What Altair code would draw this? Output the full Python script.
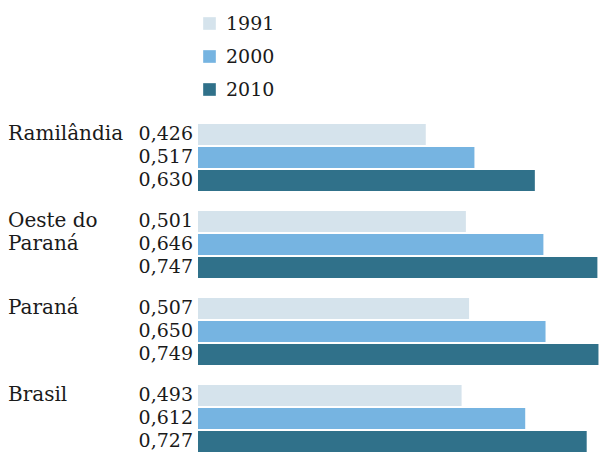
import altair as alt
import pandas as pd

# IDHM by region and census year
regions = ["Ramilândia", "Oeste do Paraná", "Paraná", "Brasil"]
years = ["1991", "2000", "2010"]
idhm_1991 = [0.426, 0.501, 0.507, 0.493]
idhm_2000 = [0.517, 0.646, 0.650, 0.612]
idhm_2010 = [0.630, 0.747, 0.749, 0.727]
# region names split into the lines shown beside each group
region_lines = [["Ramilândia"], ["Oeste do", "Paraná"], ["Paraná"], ["Brasil"]]
colors = ["#d5e3ec", "#76b4e1", "#30718a"]

FONT = "DejaVu Serif"
TEXT_COLOR = "#1a1a1a"

rows = []
for i, reg in enumerate(regions):
    for yr, series in zip(years, [idhm_1991, idhm_2000, idhm_2010]):
        v = series[i]
        rows.append({"region": reg, "year": yr, "value": v,
                     "label": f"{v:.3f}".replace(".", ",")})
bars_df = pd.DataFrame(rows)

name_rows = []
for reg, lines in zip(regions, region_lines):
    for yr, line in zip(years, lines):
        name_rows.append({"region": reg, "year": yr, "name": line})
names_df = pd.DataFrame(name_rows)

y_enc = alt.Y("region:N", sort=regions, axis=None,
              scale=alt.Scale(paddingInner=20 / 87, paddingOuter=0))
yoff_enc = alt.YOffset("year:N", sort=years,
                       scale=alt.Scale(paddingInner=2 / 23, paddingOuter=0))

bars = alt.Chart(bars_df).mark_bar().encode(
    x=alt.X("value:Q", scale=alt.Scale(domain=[0, 0.75]), axis=None),
    y=y_enc,
    yOffset=yoff_enc,
    color=alt.Color(
        "year:N", sort=years,
        scale=alt.Scale(domain=years, range=colors),
        legend=alt.Legend(
            title=None, orient="none", legendX=2, legendY=-110,
            symbolType="square", symbolSize=160, symbolStrokeWidth=0,
            labelFont=FONT, labelFontSize=19, labelColor=TEXT_COLOR,
            labelOffset=7, rowPadding=13, padding=0,
        ),
    ),
)

values = alt.Chart(bars_df).mark_text(
    align="right", baseline="middle", font=FONT, fontSize=19,
    color=TEXT_COLOR, dy=-1,
).encode(
    x=alt.value(-5),
    y=y_enc,
    yOffset=yoff_enc,
    text="label:N",
)

names = alt.Chart(names_df).mark_text(
    align="left", baseline="middle", font=FONT, fontSize=20,
    color=TEXT_COLOR, dy=-1,
).encode(
    x=alt.value(-190),
    y=y_enc,
    yOffset=yoff_enc,
    text="name:N",
)

chart = alt.layer(bars, values, names).properties(
    width=401,
    height=328,
    autosize=alt.AutoSizeParams(type="none"),
    padding={"left": 198, "top": 124, "right": 1, "bottom": 3},
).configure_view(strokeWidth=0)

chart.save("out.html", embed_options={"renderer": "svg", "actions": False})
